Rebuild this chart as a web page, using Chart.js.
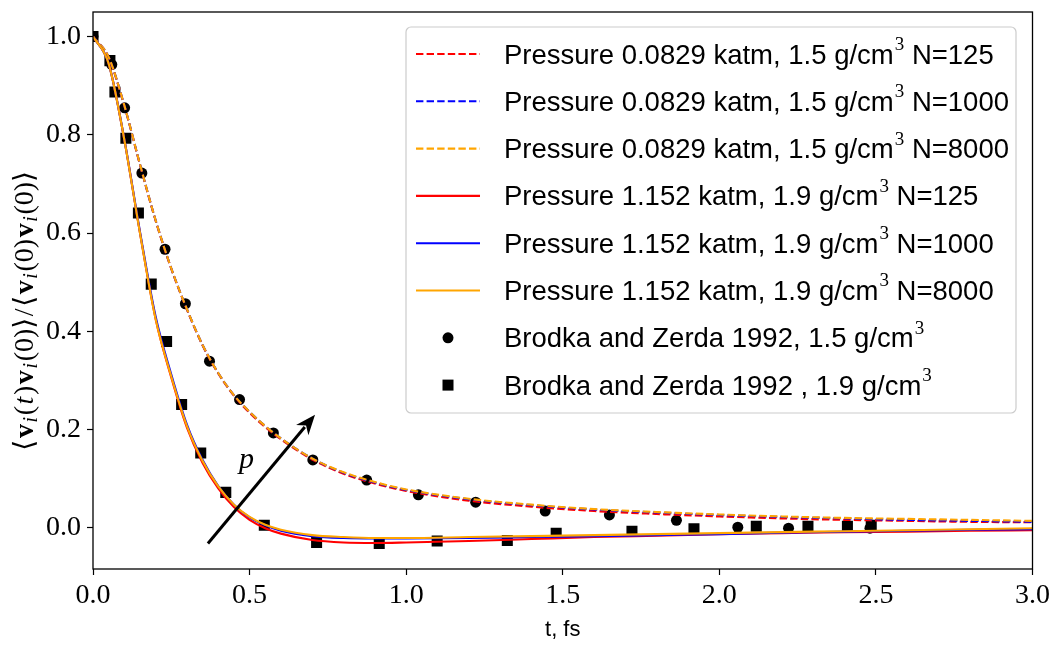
<!DOCTYPE html>
<html>
<head>
<meta charset="utf-8">
<script src="https://cdn.jsdelivr.net/npm/chart.js@4.4.0/dist/chart.umd.min.js"></script>
<style>
html,body{margin:0;padding:0;background:#fff;}
#wrap{width:1054px;height:645px;position:relative;}
</style>
</head>
<body>
<div id="wrap"><canvas id="c" width="1054" height="645"></canvas></div>
<script>
// ---- data ----
const tGrid = [0,0.05,0.1,0.15,0.2,0.25,0.3,0.35,0.4,0.45,0.5,0.55,0.6,0.7,0.8,0.9,1.0,1.2,1.4,1.6,1.8,2.0,2.2,2.4,2.6,2.8,3.0];

const low125  = [1.0,0.957,0.859,0.739,0.625,0.527,0.444,0.371,0.314,0.269,0.234,0.205,0.180,0.139,0.110,0.090,0.075,0.055,0.043,0.034,0.028,0.023,0.019,0.016,0.014,0.012,0.011];
const low1000 = [1.0,0.958,0.860,0.740,0.626,0.528,0.445,0.372,0.315,0.270,0.236,0.207,0.182,0.141,0.112,0.092,0.077,0.058,0.046,0.037,0.031,0.026,0.022,0.019,0.016,0.014,0.012];
const low8000 = [1.0,0.958,0.860,0.740,0.626,0.528,0.445,0.372,0.315,0.270,0.236,0.207,0.182,0.141,0.113,0.093,0.078,0.059,0.047,0.038,0.032,0.027,0.023,0.020,0.018,0.016,0.014];

const high125  = [1.0,0.945,0.790,0.600,0.425,0.306,0.204,0.132,0.080,0.042,0.016,-0.001,-0.012,-0.025,-0.030,-0.031,-0.030,-0.027,-0.023,-0.019,-0.016,-0.013,-0.011,-0.009,-0.008,-0.006,-0.005];
const high1000 = [1.0,0.945,0.791,0.603,0.430,0.312,0.210,0.138,0.085,0.047,0.021,0.005,-0.006,-0.017,-0.021,-0.022,-0.022,-0.021,-0.019,-0.017,-0.015,-0.013,-0.010,-0.008,-0.006,-0.004,-0.003];
const high8000 = [1.0,0.945,0.790,0.600,0.425,0.308,0.207,0.136,0.084,0.047,0.022,0.006,-0.004,-0.015,-0.019,-0.021,-0.021,-0.019,-0.017,-0.015,-0.013,-0.011,-0.009,-0.007,-0.005,-0.003,-0.001];

const bz15T = [0,0.060,0.101,0.156,0.230,0.295,0.372,0.468,0.576,0.702,0.874,1.039,1.222,1.444,1.649,1.863,2.059,2.221,2.481];
const bz15V = [1.0,0.943,0.855,0.722,0.567,0.456,0.339,0.261,0.193,0.138,0.097,0.067,0.052,0.034,0.026,0.015,0.001,-0.001,-0.001];

const bz19T = [0,0.054,0.070,0.105,0.145,0.186,0.235,0.283,0.344,0.424,0.547,0.714,0.914,1.099,1.323,1.479,1.721,1.919,2.118,2.283,2.409,2.485];
const bz19V = [1.0,0.951,0.887,0.793,0.641,0.496,0.379,0.251,0.152,0.072,0.005,-0.030,-0.032,-0.027,-0.026,-0.011,-0.007,-0.002,0.003,0.003,0.003,0.005];

const xTicks = [0,0.5,1.0,1.5,2.0,2.5,3.0];
const yTicks = [0,0.2,0.4,0.6,0.8,1.0];

const labels = [
  'Pressure 0.0829 katm, 1.5 g/cm³ N=125',
  'Pressure 0.0829 katm, 1.5 g/cm³ N=1000',
  'Pressure 0.0829 katm, 1.5 g/cm³ N=8000',
  'Pressure 1.152 katm, 1.9 g/cm³ N=125',
  'Pressure 1.152 katm, 1.9 g/cm³ N=1000',
  'Pressure 1.152 katm, 1.9 g/cm³ N=8000',
  'Brodka and Zerda 1992, 1.5 g/cm³',
  'Brodka and Zerda 1992 , 1.9 g/cm³'
];

// ---- build ----
const pts = (xs, ys) => xs.map((x, i) => ({x: x, y: ys[i]}));
const DASH = [7.4, 3.2];
function lineDs(label, ys, color, dashed, order) {
  return {label, data: pts(tGrid, ys), borderColor: color, backgroundColor: color,
    borderWidth: 2.1, borderDash: dashed ? DASH : [], pointRadius: 0, pointHoverRadius: 0,
    cubicInterpolationMode: 'monotone', fill: false, order, showLine: true};
}
const datasets = [
  lineDs(labels[0], low125, '#ff0000', true, 6),
  lineDs(labels[1], low1000, '#0000ff', true, 5),
  lineDs(labels[2], low8000, '#ffa500', true, 4),
  lineDs(labels[3], high125, '#ff0000', false, 3),
  lineDs(labels[4], high1000, '#0000ff', false, 2),
  lineDs(labels[5], high8000, '#ffa500', false, 1),
  {label: labels[6], data: pts(bz15T, bz15V), showLine: false, pointStyle: 'circle', pointRadius: 5.5,
   backgroundColor: '#000', borderColor: '#000', borderWidth: 0, order: 8},
  {label: labels[7], data: pts(bz19T, bz19V), showLine: false, pointStyle: 'rect', pointRadius: 7.8,
   backgroundColor: '#000', borderColor: '#000', borderWidth: 0, order: 7}
];

const SERIF = '"Liberation Serif", "DejaVu Serif", serif';
const SANS = '"Liberation Sans", "DejaVu Sans", sans-serif';

const framePlugin = {
  id: 'frame',
  afterDatasetsDraw(chart) {
    const {ctx, chartArea: a} = chart;
    ctx.save();
    ctx.strokeStyle = '#000';
    ctx.lineWidth = 1.3;
    ctx.strokeRect(a.left, a.top, a.right - a.left, a.bottom - a.top);
    ctx.restore();
  }
};

const arrowPlugin = {
  id: 'arrowNote',
  afterDatasetsDraw(chart) {
    const {ctx, scales: {x, y}} = chart;
    const x0 = x.getPixelForValue(0.367), y0 = y.getPixelForValue(-0.032);
    const x1 = x.getPixelForValue(0.709), y1 = y.getPixelForValue(0.230);
    const ang = Math.atan2(y1 - y0, x1 - x0);
    const hl = 20, hw = 8;
    ctx.save();
    ctx.strokeStyle = '#000'; ctx.fillStyle = '#000'; ctx.lineWidth = 3;
    const bx = x1 - hl * Math.cos(ang), by = y1 - hl * Math.sin(ang);
    ctx.beginPath(); ctx.moveTo(x0, y0); ctx.lineTo(bx + 4 * Math.cos(ang), by + 4 * Math.sin(ang)); ctx.stroke();
    ctx.beginPath();
    ctx.moveTo(x1, y1);
    ctx.lineTo(bx + hw * Math.sin(ang), by - hw * Math.cos(ang));
    ctx.lineTo(bx + 6 * Math.cos(ang), by + 6 * Math.sin(ang));
    ctx.lineTo(bx - hw * Math.sin(ang), by + hw * Math.cos(ang));
    ctx.closePath(); ctx.fill();
    ctx.font = 'italic 30px ' + SERIF;
    ctx.textAlign = 'center'; ctx.textBaseline = 'middle';
    ctx.fillText('p', x.getPixelForValue(0.49), y.getPixelForValue(0.138));
    ctx.restore();
  }
};

const ytitlePlugin = {
  id: 'ytitle',
  afterDraw(chart) {
    const {ctx} = chart;
    const fs = 28, gap = 1.6;
    const segs = [
      ['⟨', ''], ['v', 'bold '], ['i', 'italic ', 1], ['(', ''], ['t', 'italic '], [')', ''],
      ['v', 'bold '], ['i', 'italic ', 1], ['(0)⟩', ''], ['/', ''], ['⟨', ''],
      ['v', 'bold '], ['i', 'italic ', 1], ['(0)', ''],
      ['v', 'bold '], ['i', 'italic ', 1], ['(0)⟩', '']
    ];
    ctx.save();
    let total = 0;
    const w = segs.map(s => {
      ctx.font = s[1] + (s[2] ? Math.round(fs * 0.7) : fs) + 'px ' + SERIF;
      const m = ctx.measureText(s[0]).width + gap;
      total += m; return m;
    });
    ctx.translate(26, 310);
    ctx.rotate(-Math.PI / 2);
    ctx.fillStyle = '#000';
    ctx.textBaseline = 'middle';
    ctx.textAlign = 'left';
    let px = -total / 2;
    segs.forEach((s, i) => {
      ctx.font = s[1] + (s[2] ? Math.round(fs * 0.7) : fs) + 'px ' + SERIF;
      ctx.fillText(s[0], px, s[2] ? 6 : 0);
      px += w[i];
    });
    ctx.restore();
  }
};

const legendPlugin = {
  id: 'customLegend',
  afterDraw(chart) {
    const {ctx} = chart;
    const L = 406, T = 27, R = 1016, B = 413;
    ctx.save();
    ctx.fillStyle = 'rgba(255,255,255,0.8)';
    ctx.strokeStyle = '#cccccc';
    ctx.lineWidth = 1.2;
    ctx.beginPath();
    ctx.roundRect(L, T, R - L, B - T, 5);
    ctx.fill(); ctx.stroke();
    const fs = 27.5;
    const rowY0 = 54, rowDy = 47.3;
    chart.data.datasets.forEach((ds, i) => {
      const yy = rowY0 + i * rowDy;
      ctx.save();
      if (ds.showLine !== false) {
        ctx.strokeStyle = ds.borderColor; ctx.lineWidth = 2.1;
        ctx.setLineDash(ds.borderDash || []);
        ctx.beginPath(); ctx.moveTo(416, yy); ctx.lineTo(480, yy); ctx.stroke();
      } else {
        ctx.fillStyle = '#000';
        if (ds.pointStyle === 'circle') {
          ctx.beginPath(); ctx.arc(448, yy, 5.5, 0, Math.PI * 2); ctx.fill();
        } else {
          ctx.fillRect(442.5, yy - 5.5, 11, 11);
        }
      }
      ctx.restore();
      ctx.fillStyle = '#000';
      ctx.textBaseline = 'middle'; ctx.textAlign = 'left';
      const parts = ds.label.split('³');
      let px = 504;
      parts.forEach((p, k) => {
        ctx.font = fs + 'px ' + SANS;
        ctx.fillText(p, px, yy + 2);
        px += ctx.measureText(p).width;
        if (k < parts.length - 1) {
          ctx.font = Math.round(fs * 0.7) + 'px ' + SERIF;
          ctx.fillText('3', px + 1, yy - 9);
          px += ctx.measureText('3').width + 1;
        }
      });
    });
    ctx.restore();
  }
};

new Chart(document.getElementById('c'), {
  type: 'scatter',
  data: {datasets},
  options: {
    responsive: false,
    animation: false,
    devicePixelRatio: 1,
    layout: {padding: {left: 40, right: 4, top: 12, bottom: 2}},
    plugins: {legend: {display: false}, tooltip: {enabled: false}},
    elements: {line: {tension: 0}},
    scales: {
      x: {
        type: 'linear', min: 0, max: 3,
        afterBuildTicks: s => { s.ticks = xTicks.map(v => ({value: v})); },
        ticks: {callback: v => Number(v).toFixed(1), color: '#000', font: {family: SERIF, size: 28}, padding: 4, maxRotation: 0},
        grid: {display: true, drawOnChartArea: false, drawTicks: true, tickLength: 6, tickColor: '#000', tickWidth: 1.2},
        border: {display: false},
        title: {display: true, text: 't, fs', color: '#000', font: {family: SANS, size: 22}, padding: {top: 0, bottom: 0}}
      },
      y: {
        type: 'linear', min: -0.084, max: 1.05,
        afterBuildTicks: s => { s.ticks = yTicks.map(v => ({value: v})); },
        afterFit: s => { s.paddingTop = 0; s.paddingBottom = 0; },
        ticks: {callback: v => Number(v).toFixed(1), color: '#000', font: {family: SERIF, size: 28}, padding: 6},
        grid: {display: true, drawOnChartArea: false, drawTicks: true, tickLength: 6, tickColor: '#000', tickWidth: 1.2},
        border: {display: false}
      }
    }
  },
  plugins: [framePlugin, arrowPlugin, ytitlePlugin, legendPlugin]
});
</script>
</body>
</html>
